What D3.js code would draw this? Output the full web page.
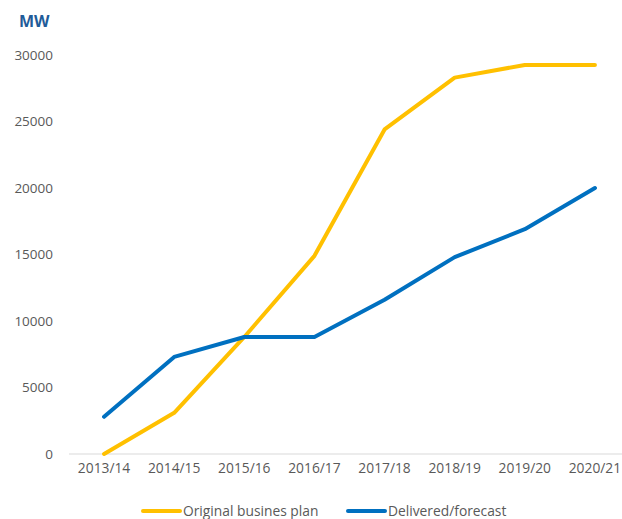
<!DOCTYPE html>
<html><head><meta charset="utf-8">
<script src="https://cdn.jsdelivr.net/npm/d3@7"></script>
<style>body{margin:0;background:#fff}svg{display:block}</style>
</head><body>
<script>
const categories = ["2013/14","2014/15","2015/16","2016/17","2017/18","2018/19","2019/20","2020/21"];
const originalPlan = [0, 3100, 8800, 14900, 24400, 28300, 29250, 29250];
const delivered = [2800, 7300, 8800, 8800, 11600, 14800, 16900, 20000];
const yTicks = [0, 5000, 10000, 15000, 20000, 25000, 30000];
const seriesNames = ["Original busines plan", "Delivered/forecast"];
const colors = ["#FFC000", "#0070C0"];

const W = 622, H = 519;
const font = "'Open Sans', sans-serif";
const svg = d3.select("body").append("svg").attr("width", W).attr("height", H);

const x = d3.scaleBand().domain(categories).range([69, 630]);
const y = d3.scaleLinear().domain([0, 30000]).range([454, 55]);

svg.append("line").attr("x1", 69).attr("x2", 622).attr("y1", y(0)).attr("y2", y(0))
  .attr("stroke", "#d9d9d9").attr("stroke-width", 1);

const yAxis = d3.axisLeft(y).tickValues(yTicks).tickSize(0).tickPadding(0).tickFormat(d3.format("d"));
const gy = svg.append("g").attr("transform", "translate(53,0)").call(yAxis);
gy.select(".domain").remove();
gy.selectAll("text").attr("font-family", font).attr("font-size", 13.5).attr("fill", "#595959");

const xAxis = d3.axisBottom(x).tickSize(0).tickPadding(0);
const gx = svg.append("g").attr("transform", "translate(0,463)").call(xAxis);
gx.select(".domain").remove();
gx.selectAll("text").attr("font-family", font).attr("font-size", 13.8).attr("fill", "#595959");

svg.append("text").attr("x", 19).attr("y", 27).text("MW")
  .attr("font-family", font).attr("font-weight", "bold").attr("font-size", 16).attr("fill", "#1F5C99");

const line = d3.line().x((d, i) => x(categories[i]) + x.bandwidth() / 2).y(d => y(d));
[originalPlan, delivered].forEach((s, k) => {
  svg.append("path").datum(s).attr("d", line).attr("fill", "none")
    .attr("stroke", colors[k]).attr("stroke-width", 4).attr("stroke-linecap", "round").attr("stroke-linejoin", "round");
});

const legX = [143, 348];
seriesNames.forEach((n, k) => {
  svg.append("line").attr("x1", legX[k]).attr("x2", legX[k] + 37).attr("y1", 511).attr("y2", 511)
    .attr("stroke", colors[k]).attr("stroke-width", 4).attr("stroke-linecap", "round");
  svg.append("text").attr("x", legX[k] + 40).attr("y", 516).text(n)
    .attr("font-family", font).attr("font-size", 13.8).attr("fill", "#595959");
});
</script>
</body></html>
